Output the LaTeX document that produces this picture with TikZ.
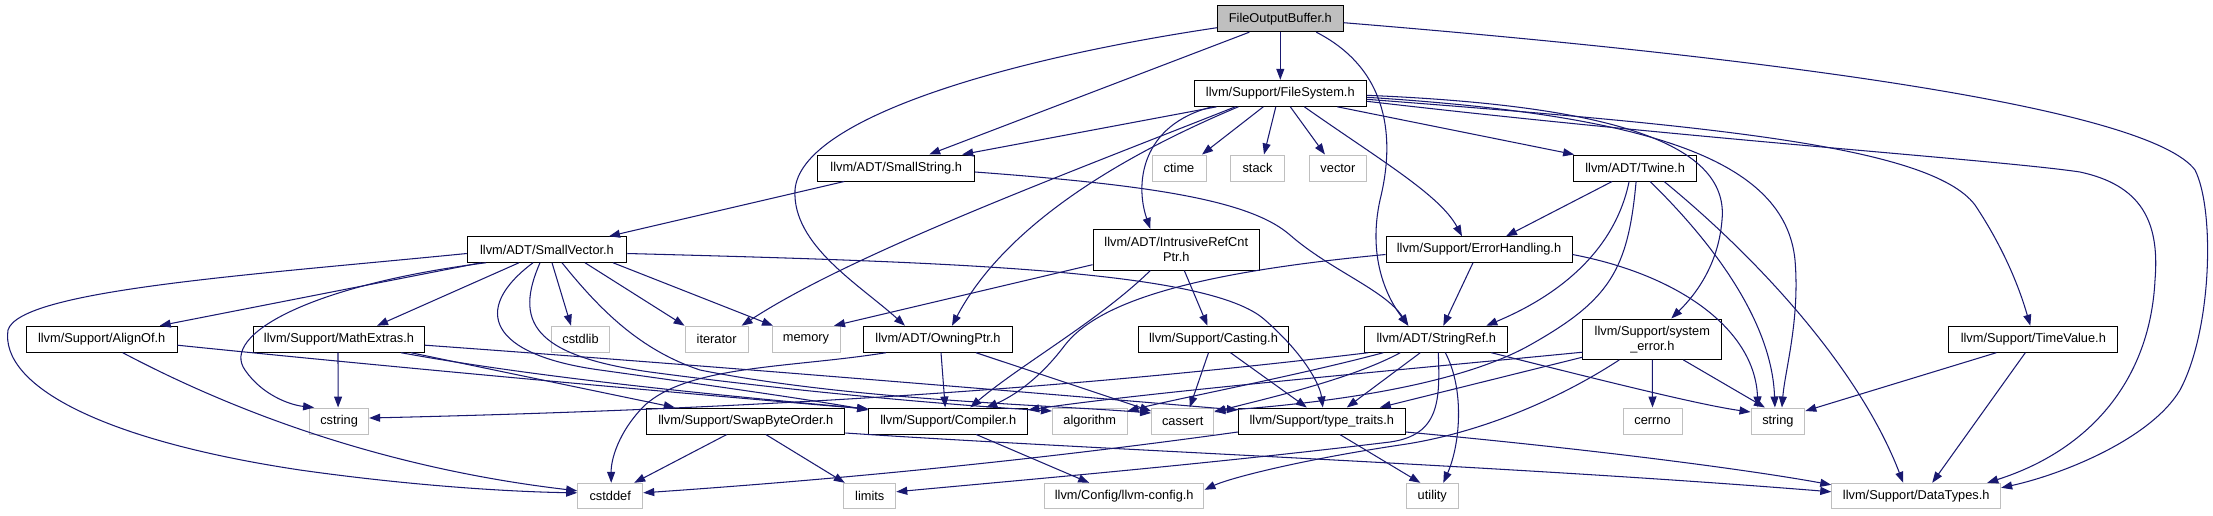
\documentclass[tikz,border=0pt]{standalone}
\usepackage{fontspec}
\setmainfont{Liberation Sans}
\usetikzlibrary{arrows.meta}
\definecolor{edgeblue}{RGB}{25,25,112}
\definecolor{sysgray}{RGB}{191,191,191}
\definecolor{curgray}{RGB}{191,191,191}
\tikzset{
  hdr/.style={draw=black, fill=white, line width=1pt, inner sep=0pt, font=\fontsize{12.8}{15}\selectfont, align=center, minimum height=26pt},
  sys/.style={draw=sysgray, fill=white, line width=1pt, inner sep=0pt, font=\fontsize{12.8}{15}\selectfont, align=center, minimum height=26pt},
  cur/.style={hdr, fill=curgray},
  e/.style={draw=edgeblue, line width=1.05pt, -{Triangle[length=11pt,width=8pt]}},
}
\begin{document}
\begin{tikzpicture}[x=1pt,y=-1pt]
\useasboundingbox (0,0) rectangle (2213,515);
% row 0-1
\node[cur, minimum width=125.5pt] (fob) at (1280.3,18.7) {FileOutputBuffer.h};
\node[hdr, minimum width=172pt] (fs) at (1280.3,93.3) {llvm/Support/FileSystem.h};
% row 2
\node[hdr, minimum width=156.6pt] (sstr) at (896.2,168) {llvm/ADT/SmallString.h};
\node[sys, minimum width=54pt] (ctime) at (1179,168) {ctime};
\node[sys, minimum width=53.3pt] (stack) at (1257.5,168) {stack};
\node[sys, minimum width=56.6pt] (vector) at (1337.9,168) {vector};
\node[hdr, minimum width=123.2pt] (twine) at (1635.1,168) {llvm/ADT/Twine.h};
% row 3
\node[hdr, minimum width=159.5pt, minimum height=25.5pt] (sv) at (547,249.5) {llvm/ADT/SmallVector.h};
\node[hdr, minimum width=166.6pt, minimum height=40.7pt] (irc) at (1176.3,249.7) {llvm/ADT/IntrusiveRefCnt\\Ptr.h};
\node[hdr, minimum width=186pt, minimum height=25.5pt] (eh) at (1479,249.5) {llvm/Support/ErrorHandling.h};
% row 4
\node[hdr, minimum width=150.6pt] (align) at (101.7,339.2) {llvm/Support/AlignOf.h};
\node[hdr, minimum width=171.3pt] (math) at (339,339.2) {llvm/Support/MathExtras.h};
\node[sys, minimum width=58.5pt] (cstdlib) at (580.5,339.2) {cstdlib};
\node[sys, minimum width=62.8pt] (iterator) at (716.6,339.2) {iterator};
\node[sys, minimum width=68pt] (memory) at (806,339.2) {memory};
\node[hdr, minimum width=149.4pt] (owning) at (938,339.2) {llvm/ADT/OwningPtr.h};
\node[hdr, minimum width=150.5pt] (casting) at (1213.5,339.2) {llvm/Support/Casting.h};
\node[hdr, minimum width=142.7pt] (sref) at (1436.3,339.2) {llvm/ADT/StringRef.h};
\node[hdr, minimum width=138.7pt, minimum height=40.4pt] (syserr) at (1652.3,339.2) {llvm/Support/system\\\_error.h};
\node[hdr, minimum width=169.3pt] (timeval) at (2033.3,339.2) {llvm/Support/TimeValue.h};
% row 5
\node[sys, minimum width=59pt] (cstring) at (339.1,421) {cstring};
\node[hdr, minimum width=198.3pt] (swap) at (745.8,421) {llvm/Support/SwapByteOrder.h};
\node[hdr, minimum width=159pt] (compiler) at (948.2,421) {llvm/Support/Compiler.h};
\node[sys, minimum width=74.6pt] (algorithm) at (1089.7,421) {algorithm};
\node[sys, minimum width=62.3pt] (cassert) at (1182.7,421) {cassert};
\node[hdr, minimum width=167pt] (ttraits) at (1321.8,421) {llvm/Support/type\_traits.h};
\node[sys, minimum width=59pt] (cerrno) at (1652.5,421) {cerrno};
\node[sys, minimum width=53.8pt] (string) at (1777.9,421) {string};
% row 6
\node[sys, minimum width=65.1pt, minimum height=25pt] (cstddef) at (610.2,495.8) {cstddef};
\node[sys, minimum width=51.9pt, minimum height=25pt] (limits) at (869.8,495.8) {limits};
\node[sys, minimum width=159.5pt, minimum height=25pt] (llvmcfg) at (1124.2,495.8) {llvm/Config/llvm-config.h};
\node[sys, minimum width=52pt, minimum height=25pt] (utility) at (1432.3,495.8) {utility};
\node[sys, minimum width=168.9pt, minimum height=25pt] (datatypes) at (1916.2,495.8) {llvm/Support/DataTypes.h};

% FileOutputBuffer.h
\draw[e] (fob.south) -- (fs.north);
\draw[e] ([xshift=-31pt]fob.south) -- ([xshift=33pt]sstr.north);
\draw[e] ([yshift=-9pt]fob.west) .. controls (1000,60) and (800,120) .. (795,190) .. controls (792,245) and (860,285) .. ([xshift=-33pt]owning.north);
\draw[e] ([xshift=36pt]fob.south) .. controls (1390,70) and (1395,140) .. (1380,200) .. controls (1368,255) and (1385,295) .. ([xshift=-28pt]sref.north);
\draw[e] ([yshift=-4pt]fob.east) .. controls (1800,60) and (2150,110) .. (2195,170) .. controls (2215,210) and (2212,330) .. (2180,390) .. controls (2150,440) and (2060,475) .. ([yshift=8pt]datatypes.east);

% FileSystem.h
\draw[e] ([xshift=-63.7pt]fs.south) -- ([xshift=66pt]sstr.north);
\draw[e] ([xshift=-45pt]fs.south) .. controls (1050,180) and (850,255) .. ([xshift=25pt]iterator.north);
\draw[e] ([xshift=-17pt]fs.south) -- ([xshift=23pt]ctime.north);
\draw[e] ([xshift=-4.5pt]fs.south) -- ([xshift=6.5pt]stack.north);
\draw[e] ([xshift=10pt]fs.south) -- ([xshift=-13pt]vector.north);
\draw[e] ([xshift=-68pt]fs.south) .. controls (1140,125) and (1135,185) .. ([xshift=-26pt]irc.north);
\draw[e] ([xshift=-42pt]fs.south) .. controls (1100,165) and (1000,235) .. ([xshift=14pt]owning.north);
\draw[e] ([xshift=24pt]fs.south) .. controls (1380,160) and (1440,195) .. ([xshift=-17pt]eh.north);
\draw[e] ([xshift=57pt]fs.south) -- ([xshift=-61pt]twine.north);
\draw[e] ([yshift=-2pt]fs.east) .. controls (1600,105) and (1730,140) .. (1722,220) .. controls (1718,270) and (1690,300) .. ([xshift=19pt]syserr.north);
\draw[e] ([yshift=-4pt]fs.east) .. controls (1650,115) and (1785,160) .. (1795,260) .. controls (1800,320) and (1785,370) .. ([xshift=4pt]string.north);
\draw[e] ([yshift=-6pt]fs.east) .. controls (1700,125) and (1930,145) .. (1975,205) .. controls (2005,250) and (2020,290) .. ([xshift=-3pt]timeval.north);
\draw[e] ([yshift=-8pt]fs.east) .. controls (1700,140) and (2000,160) .. (2080,172) .. controls (2140,185) and (2160,220) .. (2155,280) .. controls (2150,380) and (2090,450) .. ([xshift=71pt]datatypes.north);

% SmallString.h
\draw[e] ([xshift=-52pt]sstr.south) -- ([xshift=62pt]sv.north);
\draw[e] ([yshift=-4pt]sstr.east) .. controls (1150,185) and (1250,200) .. (1290,235) .. controls (1330,270) and (1385,290) .. ([xshift=-28pt]sref.north);

% Twine.h
\draw[e] ([xshift=-23pt]twine.south) -- ([xshift=27pt]eh.north);
\draw[e] ([xshift=-6pt]twine.south) .. controls (1615,250) and (1560,295) .. ([xshift=50pt]sref.north);
\draw[e] ([xshift=1pt]twine.south) .. controls (1628,270) and (1610,300) .. (1530,345) .. controls (1450,390) and (1300,405) .. ([yshift=10pt]cassert.east);
\draw[e] ([xshift=15pt]twine.south) .. controls (1710,240) and (1772,320) .. ([xshift=-3pt]string.north);
\draw[e] ([xshift=29pt]twine.south) .. controls (1760,260) and (1860,370) .. ([xshift=-13pt]datatypes.north);

% ErrorHandling.h
\draw[e] ([xshift=-6pt]eh.south) -- ([xshift=7pt]sref.north);
\draw[e] ([yshift=-5pt]eh.east) .. controls (1680,275) and (1755,330) .. ([xshift=-20pt]string.north);
\draw[e] ([yshift=-5pt]eh.west) .. controls (1200,272) and (1100,300) .. (1065,345) .. controls (1035,385) and (1005,400) .. ([xshift=38pt]compiler.north);

% IntrusiveRefCntPtr.h
\draw[e] ([yshift=-15pt]irc.west) -- ([xshift=28pt]memory.north);
\draw[e] ([xshift=-26pt]irc.south) .. controls (1100,320) and (1020,365) .. ([xshift=22pt]compiler.north);
\draw[e] ([xshift=8pt]irc.south) -- ([xshift=-6pt]casting.north);

% OwningPtr.h
\draw[e] ([xshift=-52pt]owning.south) .. controls (790,368) and (690,365) .. (645,405) .. controls (618,432) and (611,460) .. ([xshift=1pt]cstddef.north);
\draw[e] ([xshift=3pt]owning.south) -- ([xshift=-3pt]compiler.north);
\draw[e] ([xshift=38pt]owning.south) -- ([yshift=10pt]cassert.west);

% Casting.h
\draw[e] ([xshift=-5pt]casting.south) -- ([xshift=7pt]cassert.north);
\draw[e] ([xshift=17pt]casting.south) -- ([xshift=-15pt]ttraits.north);

% SmallVector.h
\draw[e] ([xshift=-66pt]sv.south) -- ([xshift=58pt]align.north);
\draw[e] ([yshift=-4pt]sv.west) .. controls (250,275) and (20,290) .. (8,330) .. controls (0,385) and (100,440) .. (300,470) .. controls (420,487) and (520,492) .. ([yshift=3pt]cstddef.west);
\draw[e] ([xshift=-61pt]sv.south) .. controls (310,285) and (220,335) .. (245,370) .. controls (262,395) and (290,405) .. ([xshift=-25pt]cstring.north);
\draw[e] ([xshift=-28pt]sv.south) -- ([xshift=38pt]math.north);
\draw[e] ([xshift=5pt]sv.south) -- ([xshift=-9.5pt]cstdlib.north);
\draw[e] ([xshift=38pt]sv.south) -- ([xshift=-32pt]iterator.north);
\draw[e] ([xshift=66pt]sv.south) -- ([xshift=-33pt]memory.north);
\draw[e] ([yshift=-4pt]sv.east) .. controls (950,262) and (1210,270) .. (1265,320) .. controls (1305,355) and (1320,385) .. ([xshift=1pt]ttraits.north);
\draw[e] ([xshift=-14pt]sv.south) .. controls (470,310) and (490,355) .. (600,370) .. controls (700,384) and (800,398) .. ([yshift=11pt]compiler.west);
\draw[e] ([xshift=-7pt]sv.south) .. controls (515,320) and (530,355) .. (650,372) .. controls (800,392) and (950,405) .. ([yshift=10pt]algorithm.west);
\draw[e] ([xshift=15pt]sv.south) .. controls (600,310) and (640,350) .. (700,370) .. controls (850,400) and (1050,405) .. ([yshift=8pt]cassert.west);

% AlignOf.h
\draw[e] ([yshift=-6pt]align.east) .. controls (400,368) and (700,395) .. ([yshift=12pt]compiler.west);
\draw[e] ([xshift=21pt]align.south) .. controls (250,420) and (400,470) .. ([yshift=5pt]cstddef.west);

% MathExtras.h
\draw[e] ([xshift=-1pt]math.south) -- ([xshift=-1pt]cstring.north);
\draw[e] ([xshift=72pt]math.south) -- ([xshift=-71pt]swap.north);
\draw[e] ([xshift=62pt]math.south) .. controls (550,380) and (750,398) .. ([yshift=12pt]compiler.west);
\draw[e] ([yshift=-6pt]math.east) .. controls (700,365) and (1000,390) .. ([yshift=11pt]ttraits.west);

% SwapByteOrder.h
\draw[e] ([xshift=-19pt]swap.south) -- ([xshift=24pt]cstddef.north);
\draw[e] ([xshift=20pt]swap.south) -- ([xshift=-25pt]limits.north);
\draw[e] ([yshift=-12pt]swap.east) .. controls (1100,450) and (1500,465) .. ([yshift=4pt]datatypes.west);

% Compiler.h
\draw[e] ([xshift=28pt]compiler.south) -- ([xshift=-35pt]llvmcfg.north);

% type_traits.h
\draw[e] ([yshift=-11pt]ttraits.west) .. controls (1000,465) and (800,482) .. ([yshift=3pt]cstddef.east);
\draw[e] ([xshift=18pt]ttraits.south) -- ([xshift=-12pt]utility.north);
\draw[e] ([yshift=-11pt]ttraits.east) .. controls (1600,450) and (1750,470) .. ([yshift=11pt]datatypes.west);

% StringRef.h
\draw[e] ([xshift=-68pt]sref.south) .. controls (1100,385) and (800,408) .. ([yshift=3pt]cstring.east);
\draw[e] ([xshift=-53pt]sref.south) .. controls (1300,375) and (1180,398) .. ([yshift=10pt]algorithm.east);
\draw[e] ([xshift=-36pt]sref.south) .. controls (1350,380) and (1260,400) .. ([yshift=9pt]cassert.east);
\draw[e] ([xshift=-16pt]sref.south) -- ([xshift=25pt]ttraits.north);
\draw[e] ([xshift=2pt]sref.south) .. controls (1440,400) and (1440,435) .. (1390,442) .. controls (1200,465) and (1000,482) .. ([yshift=4pt]limits.east);
\draw[e] ([xshift=9pt]sref.south) .. controls (1465,390) and (1460,445) .. ([xshift=11pt]utility.north);
\draw[e] ([xshift=55pt]sref.south) .. controls (1600,380) and (1700,405) .. ([yshift=9pt]string.west);

% system_error.h
\draw[e] (syserr.south) -- (cerrno.north);
\draw[e] ([xshift=31pt]syserr.south) -- ([xshift=-13pt]string.north);
\draw[e] ([yshift=-13pt]syserr.west) .. controls (1400,370) and (1150,392) .. ([yshift=11pt]compiler.east);
\draw[e] ([yshift=-18pt]syserr.west) -- ([xshift=58pt]ttraits.north);
\draw[e] ([xshift=-33pt]syserr.south) .. controls (1550,405) and (1470,435) .. (1400,445) .. controls (1300,460) and (1230,478) .. ([yshift=6pt]llvmcfg.east);

% TimeValue.h
\draw[e] ([xshift=-37pt]timeval.south) -- ([yshift=10pt]string.east);
\draw[e] ([xshift=-8pt]timeval.south) -- ([xshift=16pt]datatypes.north);
\end{tikzpicture}
\end{document}
